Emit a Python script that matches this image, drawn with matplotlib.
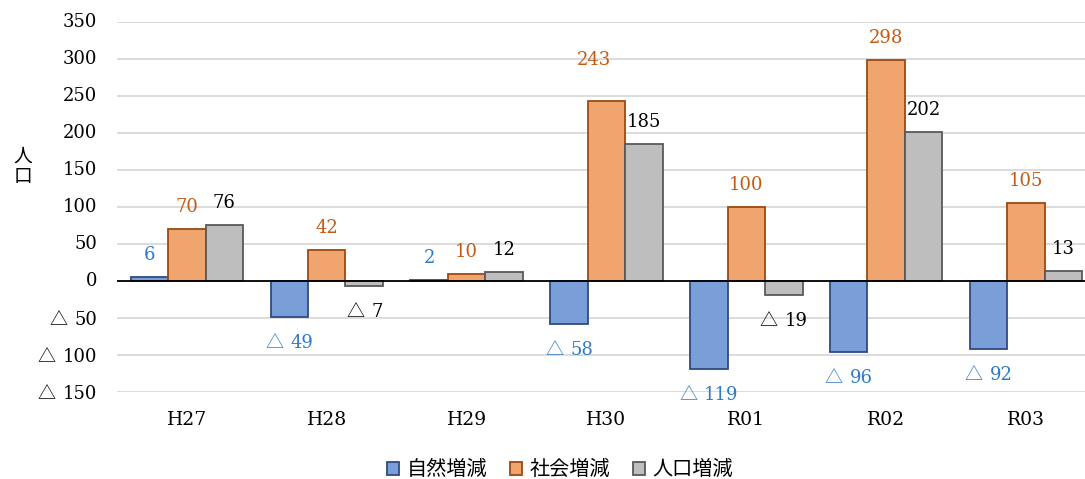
import numpy as np
import matplotlib
matplotlib.use("Agg")
from matplotlib import pyplot as plt
from matplotlib.offsetbox import TextArea, HPacker, AnnotationBbox

plt.rcParams['font.family'] = ['DejaVu Serif', 'Noto Sans CJK JP', 'DejaVu Sans']

years = ["H27", "H28", "H29", "H30", "R01", "R02", "R03"]
natural = [6, -49, 2, -58, -119, -96, -92]
social = [70, 42, 10, 243, 100, 298, 105]
total = [76, -7, 12, 185, -19, 202, 13]
series_names = ["自然増減", "社会増減", "人口増減"]

fills = ['#7a9fd8', '#f0a56e', '#bebebe']
edges = ['#2f4a80', '#9c4a10', '#595959']
label_colors = ['#2e7bc4', '#c55a11', 'black']

# labels that were dragged away from the default spot (series, index) -> px
nudge = {(1, 3): (-13, 19)}


def num_label(ax, xy, value, color, size, align, offset, xycoords='data'):
    # "△" (minus sign used in Japanese reports) drawn in the CJK font
    parts = []
    if value < 0:
        parts.append(TextArea("△", textprops=dict(family='Noto Sans CJK JP', size=size, color=color)))
        offset = (offset[0], offset[1] - 2)
    parts.append(TextArea(str(abs(value)), textprops=dict(family='DejaVu Serif', size=size, color=color)))
    box = HPacker(children=parts, align='baseline', pad=0, sep=5)
    ab = AnnotationBbox(box, xy, xycoords=xycoords, xybox=offset, boxcoords='offset pixels',
                        box_alignment=align, frameon=False, annotation_clip=False, pad=0)
    ax.add_artist(ab)


fig = plt.figure(figsize=(10.85, 4.79), dpi=100)
ax = fig.add_axes([0.1078, 0.1816, 0.9023, 0.7725])

x = np.arange(len(years))
w = 0.268
for k, vals in enumerate([natural, social, total]):
    pos = x + (k - 1) * w
    ax.bar(pos, vals, w, color=fills[k], edgecolor=edges[k], linewidth=1.3,
           label=series_names[k], zorder=3)
    for i, (px, v) in enumerate(zip(pos, vals)):
        dx, dy = nudge.get((k, i), (0, 0))
        off = (dx, 22 + dy) if v >= 0 else (dx, -24 + dy)
        num_label(ax, (px, v), v, label_colors[k], 13, (0.5, 0.5), off)

ax.set_ylim(-150, 350)
ax.set_xlim(-0.5, len(years) - 0.5)
yt = list(range(-150, 351, 50))
ax.set_yticks(yt)
ax.set_yticklabels([])
for t in yt:
    num_label(ax, (0, t), t, 'black', 13, (1, 0.5), (-20, 0), xycoords=ax.get_yaxis_transform())
ax.set_xticks(x)
ax.set_xticklabels(years)
ax.tick_params(length=0)
ax.tick_params(axis='x', pad=14, labelsize=13.5)
ax.grid(axis='y', color='#d9d9d9', linewidth=1.3, zorder=0)
ax.axhline(0, color='black', linewidth=1.3, zorder=4)
for s in ax.spines.values():
    s.set_visible(False)

fig.text(0.021, 0.653, "人\n口", family='Noto Sans CJK JP', fontsize=13.5,
         ha='center', va='center', linespacing=1.0)

fig.legend(loc='center', bbox_to_anchor=(0.516, 0.019), ncol=3, frameon=False,
           prop={'family': 'Noto Sans CJK JP', 'size': 14.5}, handlelength=0.6,
           handleheight=0.6, handletextpad=0.35, columnspacing=1.15)

fig.savefig("out.png", dpi=100)
